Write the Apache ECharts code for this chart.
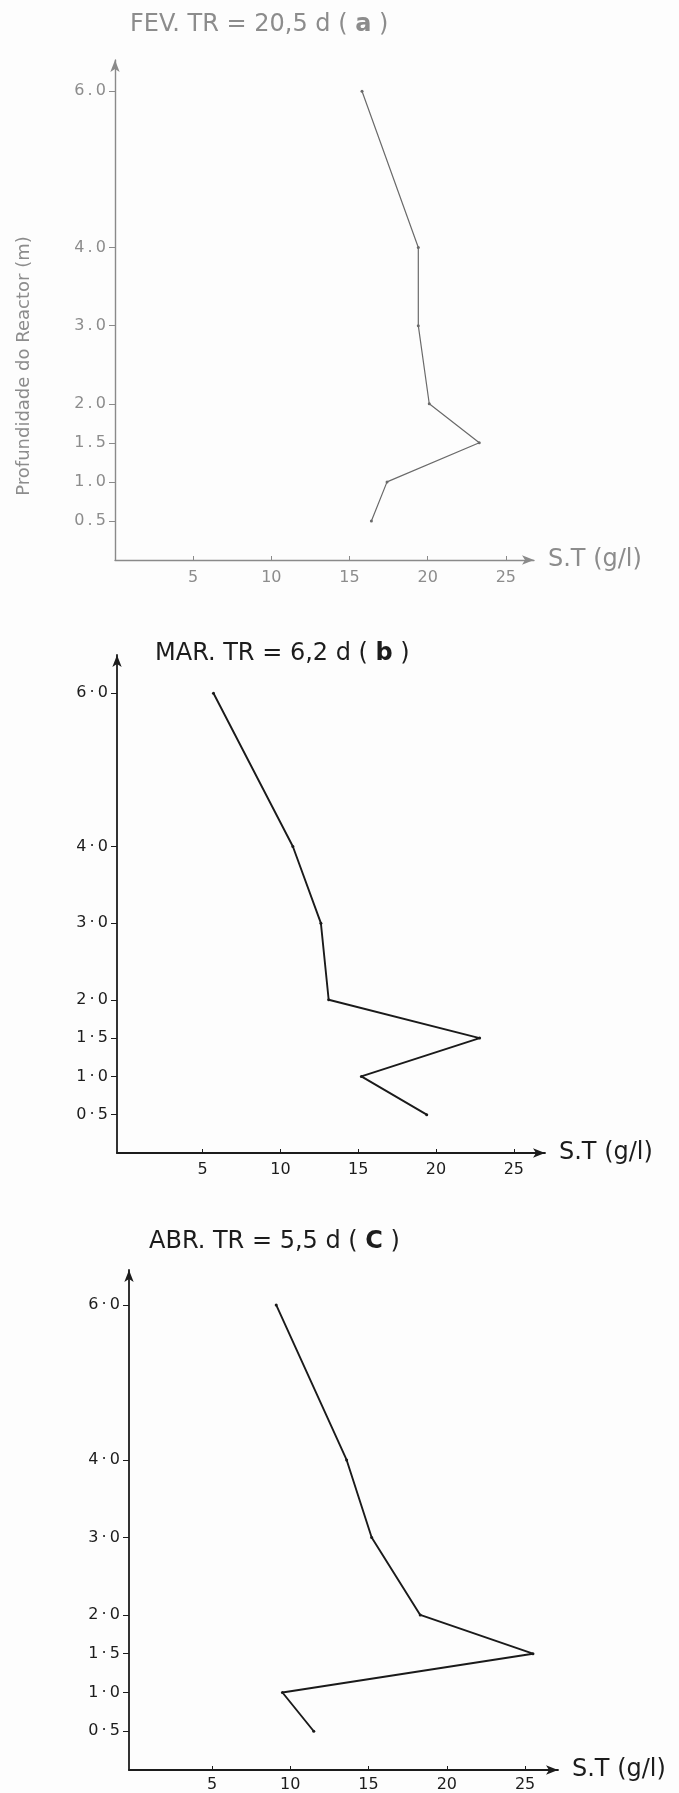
<!DOCTYPE html>
<html>
<head>
<meta charset="utf-8">
<title>Sólidos totais ao longo da profundidade do reactor</title>
<script src="https://cdn.jsdelivr.net/npm/echarts@6/dist/echarts.min.js"></script>
<style>
  body { margin: 0; background: #fff; }
  #chart { width: 679px; height: 1793px; }
</style>
</head>
<body>
<div id="chart"></div>
<script>
// profundidade do reactor (m) dos pontos de amostragem
var depths = [0.5, 1.0, 1.5, 2.0, 3.0, 4.0, 6.0];
// S.T (g/l) lidos em cada painel, na ordem de depths
var stFev = [16.4, 17.4, 23.3, 20.1, 19.4, 19.4, 15.8];
var stMar = [19.4, 15.2, 22.8, 13.1, 12.6, 10.8, 5.7];
var stAbr = [11.5, 9.5, 25.5, 18.3, 15.2, 13.6, 9.1];
// marcas dos eixos
var depthTicks = [0.5, 1, 1.5, 2, 3, 4, 6];
var stTicks = [5, 10, 15, 20, 25];
var panelTitles = ['FEV. TR = 20,5 d ( {b|a} )', 'MAR. TR = 6,2 d ( {b|b} )', 'ABR. TR = 5,5 d ( {b|C} )'];

var font = 'DejaVu Sans';
var thin = '\u2009';

// layout de cada painel (em px) e estilo
var panels = [
  { st: stFev, grid: { left: 115, top: 60, width: 419, height: 500 }, xMin: 0, xMax: 26.8, yMax: 6.4,
    axis: '#8a8a8a', text: '#8c8c8c', line: '#6a6a6a', lw: 1.2, aw: 1.4, sep: '.', title: [130, 13], lm: 10 },
  { st: stMar, grid: { left: 117, top: 655, width: 428, height: 498 }, xMin: -0.5, xMax: 27.0, yMax: 6.5,
    axis: '#1c1c1c', text: '#1c1c1c', line: '#1a1a1a', lw: 1.9, aw: 1.8, sep: '·', title: [155, 642], lm: 9 },
  { st: stAbr, grid: { left: 129, top: 1270, width: 429, height: 501 }, xMin: -0.3, xMax: 27.1, yMax: 6.45,
    axis: '#1c1c1c', text: '#1c1c1c', line: '#1a1a1a', lw: 1.9, aw: 1.8, sep: '·', title: [149, 1230], lm: 7 }
];

function pairs(st) {
  return depths.map(function (d, i) { return [st[i], d]; });
}

var option = {
  backgroundColor: '#fdfdfd',
  animation: false,
  title: [], grid: [], xAxis: [], yAxis: [], series: [],
  graphic: [{
    type: 'text', x: 24, y: 366, rotation: Math.PI / 2,
    style: { text: 'Profundidade do Reactor (m)', fill: '#8c8c8c', fontSize: 18, fontFamily: font,
             textAlign: 'center', textVerticalAlign: 'middle', align: 'center', verticalAlign: 'middle' }
  }]
};

panels.forEach(function (p, i) {
  option.title.push({
    text: panelTitles[i], left: p.title[0], top: p.title[1], padding: 0,
    textStyle: { fontSize: 24, fontWeight: 'normal', color: p.text, fontFamily: font,
                 rich: { b: { fontSize: 24, fontWeight: 'bold', color: p.text, fontFamily: font } } }
  });
  option.grid.push(p.grid);
  option.xAxis.push({
    gridIndex: i, type: 'value', min: p.xMin, max: p.xMax,
    axisLine: { show: true, onZero: false, symbol: ['none', 'arrow'], symbolSize: [7, 12],
                lineStyle: { color: p.axis, width: p.aw } },
    axisTick: { show: true, inside: true, length: 4, customValues: stTicks, lineStyle: { color: p.axis } },
    axisLabel: { customValues: stTicks, color: p.text, fontSize: 16, margin: p.lm, fontFamily: font },
    splitLine: { show: false },
    name: 'S.T (g/l)', nameLocation: 'end', nameGap: 14,
    nameTextStyle: { fontSize: 24, color: p.text, fontFamily: font }
  });
  option.yAxis.push({
    gridIndex: i, type: 'value', min: 0, max: p.yMax,
    axisLine: { show: true, onZero: false, symbol: ['none', 'arrow'], symbolSize: [7, 12],
                lineStyle: { color: p.axis, width: p.aw } },
    axisTick: { show: true, length: 6, customValues: depthTicks, lineStyle: { color: p.axis } },
    axisLabel: { customValues: depthTicks, color: p.text, fontSize: 16, margin: 9, fontFamily: font,
                 formatter: function (v) { return v.toFixed(1).replace('.', thin + p.sep + thin); } },
    splitLine: { show: false }
  });
  option.series.push({
    type: 'line', xAxisIndex: i, yAxisIndex: i, data: pairs(p.st),
    symbol: 'circle', symbolSize: 3, showSymbol: true,
    lineStyle: { color: p.line, width: p.lw }, itemStyle: { color: p.line }
  });
});

var chart = echarts.init(document.getElementById('chart'));
chart.setOption(option);
</script>
</body>
</html>
